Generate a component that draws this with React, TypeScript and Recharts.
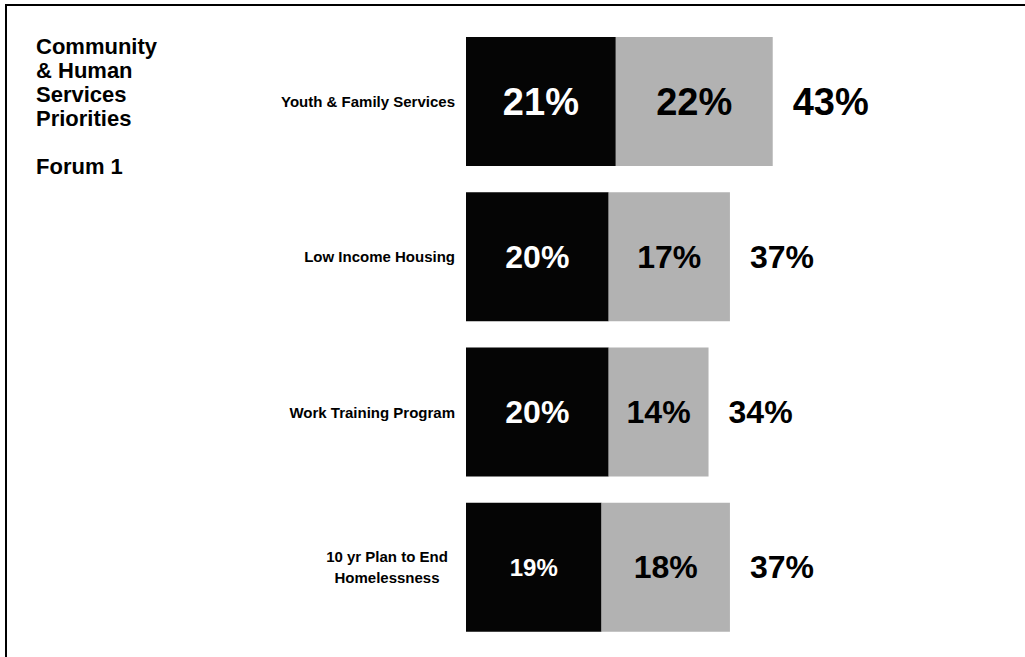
import React from 'react';
import { BarChart, Bar, XAxis, YAxis, LabelList } from 'recharts';

const categories = [
  'Youth & Family Services',
  'Low Income Housing',
  'Work Training Program',
  '10 yr Plan to End Homelessness',
];
const categoryLines = [
  ['Youth & Family Services'],
  ['Low Income Housing'],
  ['Work Training Program'],
  ['10 yr Plan to End', 'Homelessness'],
];
const firstShare = [21, 20, 20, 19];
const secondShare = [22, 17, 14, 18];
const totals = [43, 37, 34, 37];
const titleLines = ['Community', '& Human', 'Services', 'Priorities', '', 'Forum 1'];

const data = categories.map((name, i) => ({
  name,
  first: firstShare[i],
  second: secondShare[i],
  total: totals[i],
}));

const FONT = '"Liberation Sans", Arial, sans-serif';

const CategoryTick = (props: any) => {
  const { x, y, index } = props;
  const lines = categoryLines[index] || [props.payload.value];
  if (lines.length === 1) {
    return (
      <text x={x} y={y} textAnchor="end" dominantBaseline="central"
        fontFamily={FONT} fontWeight="bold" fontSize={15} fill="#000">
        {lines[0]}
      </text>
    );
  }
  const longest = Math.max(...lines.map((l: string) => l.length));
  const cx = x - (longest * 8.0) / 2;
  return (
    <text x={cx} y={y} textAnchor="middle" fontFamily={FONT} fontWeight="bold" fontSize={15} fill="#000">
      {lines.map((l: string, i: number) => (
        <tspan key={i} x={cx} y={y + (i - (lines.length - 1) / 2) * 21} dominantBaseline="central">
          {l}
        </tspan>
      ))}
    </text>
  );
};

const shareSize = (index: number, small: boolean) => {
  if (index === 0) return 38;
  if (small) return 24;
  return 32;
};

const InnerLabel = (color: string, series: 'first' | 'second') => (props: any) => {
  const { x, y, width, height, value, index } = props;
  const size = shareSize(index, series === 'first' && index === 3);
  return (
    <text x={x + width / 2} y={y + height / 2} textAnchor="middle" dominantBaseline="central"
      fontFamily={FONT} fontWeight="bold" fontSize={size} fill={color}>
      {`${value}%`}
    </text>
  );
};

const TotalLabel = (props: any) => {
  const { x, y, width, height, value, index } = props;
  return (
    <text x={x + width + 20} y={y + height / 2} textAnchor="start" dominantBaseline="central"
      fontFamily={FONT} fontWeight="bold" fontSize={index === 0 ? 38 : 32} fill="#000">
      {`${value}%`}
    </text>
  );
};

export default function App() {
  return (
    <div style={{ position: 'fixed', left: 0, top: 0, width: 1025, height: 657, background: '#fff', overflow: 'hidden' }}>
      <div style={{ position: 'absolute', left: 5, top: 4, width: 1020, height: 2, background: '#000' }} />
      <div style={{ position: 'absolute', left: 5, top: 4, width: 2, height: 653, background: '#000' }} />
      <div style={{ position: 'absolute', left: 36, top: 35, fontFamily: FONT, fontWeight: 'bold', fontSize: 22, lineHeight: '24px', color: '#000' }}>
        {titleLines.map((t, i) => (
          <div key={i} style={{ height: 24 }}>{t}</div>
        ))}
      </div>
      <BarChart
        width={1025}
        height={657}
        data={data}
        layout="vertical"
        margin={{ top: 24, right: 131, bottom: 12, left: 0 }}
        barSize={129}
      >
        <XAxis type="number" hide domain={[0, 60]} />
        <YAxis
          type="category"
          dataKey="name"
          width={466}
          axisLine={false}
          tickLine={false}
          tickSize={0}
          tickMargin={11}
          tick={<CategoryTick />}
          interval={0}
        />
        <Bar dataKey="first" stackId="a" fill="#050505" isAnimationActive={false}>
          <LabelList dataKey="first" content={InnerLabel('#fff', 'first')} />
        </Bar>
        <Bar dataKey="second" stackId="a" fill="#b2b2b2" isAnimationActive={false}>
          <LabelList dataKey="second" content={InnerLabel('#000', 'second')} />
          <LabelList dataKey="total" content={TotalLabel} />
        </Bar>
      </BarChart>
    </div>
  );
}
